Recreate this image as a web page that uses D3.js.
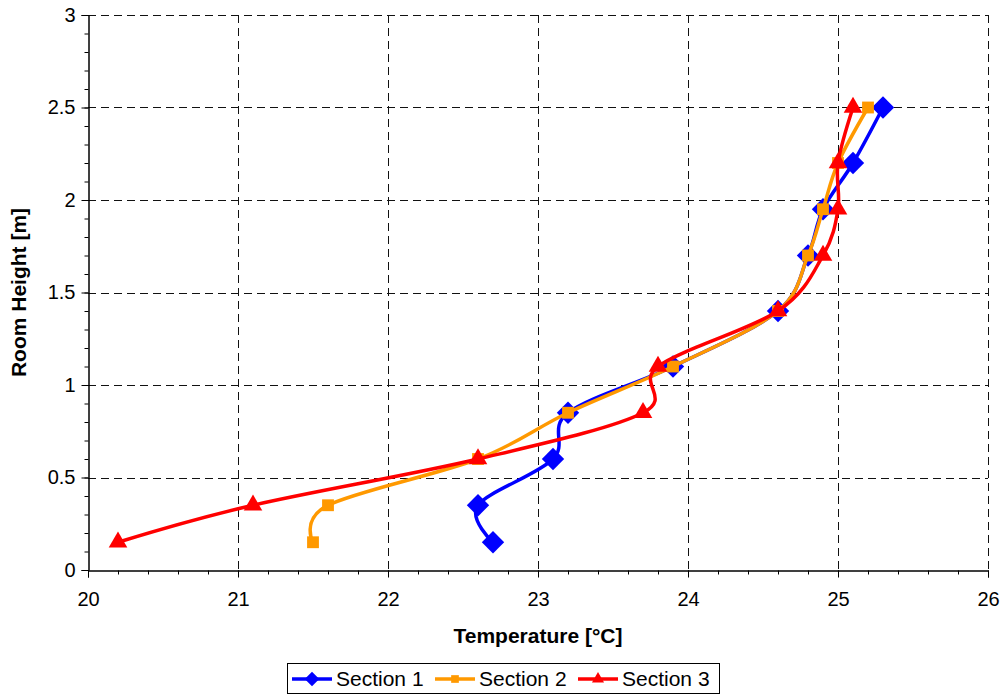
<!DOCTYPE html>
<html>
<head>
<meta charset="utf-8">
<script src="https://cdn.jsdelivr.net/npm/d3@7"></script>
<style>
  html, body { margin: 0; padding: 0; background: #fff; }
  svg { display: block; font-family: "Liberation Sans", Arial, sans-serif; }
</style>
</head>
<body>
<svg id="chart" width="1005" height="696"></svg>
<script>
// Measured room heights [m]
const heights = [0.15, 0.35, 0.6, 0.85, 1.1, 1.4, 1.7, 1.95, 2.2, 2.5];
// Temperatures [°C] for each measurement section
const section1 = [22.7, 22.6, 23.1, 23.2, 23.9, 24.6, 24.8, 24.9, 25.1, 25.3];
const section2 = [21.5, 21.6, 22.6, 23.2, 23.9, 24.6, 24.8, 24.9, 25.0, 25.2];
const section3 = [20.2, 21.1, 22.6, 23.7, 23.8, 24.6, 24.9, 25.0, 25.0, 25.1];
const seriesNames = ["Section 1", "Section 2", "Section 3"];
const xTicks = [20, 21, 22, 23, 24, 25, 26];
const yTicks = [0, 0.5, 1, 1.5, 2, 2.5, 3];

const series = [
  { name: seriesNames[0], temps: section1, color: "#0000ff", marker: "diamond" },
  { name: seriesNames[1], temps: section2, color: "#ff9900", marker: "square" },
  { name: seriesNames[2], temps: section3, color: "#ff0000", marker: "triangle" }
];

const svg = d3.select("#chart");
const plot = { left: 88, right: 988, top: 15, bottom: 570 };
const FONT = "Liberation Sans, Arial, sans-serif";

const x = d3.scaleLinear().domain([20, 26]).range([plot.left, plot.right]);
const y = d3.scaleLinear().domain([0, 3]).range([plot.bottom, plot.top]);

// Dashed grid lines
const grid = svg.append("g").attr("stroke", "#111").attr("stroke-width", 1).attr("stroke-dasharray", "8,5");
xTicks.filter(t => t !== 20).forEach(t => {
  grid.append("line").attr("x1", Math.round(x(t)) + 0.5).attr("x2", Math.round(x(t)) + 0.5)
    .attr("y1", plot.top).attr("y2", plot.bottom);
});
yTicks.filter(t => t !== 0).forEach(t => {
  grid.append("line").attr("x1", plot.left).attr("x2", plot.right)
    .attr("y1", Math.round(y(t)) + 0.5).attr("y2", Math.round(y(t)) + 0.5);
});

// Axes with minor ticks
const xMinor = d3.range(20, 26.001, 0.2);
const yMinor = d3.range(0, 3.001, 0.1);

const xAxisG = svg.append("g").attr("transform", `translate(0,${plot.bottom + 0.5})`);
xAxisG.call(d3.axisBottom(x).tickValues(xMinor).tickSize(4).tickFormat(""));
xAxisG.append("g").call(d3.axisBottom(x).tickValues(xTicks).tickSize(7).tickPadding(14).tickFormat(d3.format("d")));
xAxisG.selectAll("path").attr("stroke", "#000");
xAxisG.selectAll("line").attr("stroke", "#000");
xAxisG.selectAll("text").attr("font-size", 20).attr("fill", "#000").attr("font-family", FONT);

const yAxisG = svg.append("g").attr("transform", `translate(${plot.left + 0.5},0)`);
yAxisG.call(d3.axisLeft(y).tickValues(yMinor).tickSize(4).tickFormat(""));
yAxisG.append("g").call(d3.axisLeft(y).tickValues(yTicks).tickSize(7).tickPadding(6).tickFormat(d3.format("")));
yAxisG.selectAll("path").attr("stroke", "#000");
yAxisG.selectAll("line").attr("stroke", "#000");
yAxisG.selectAll("text").attr("font-size", 20).attr("fill", "#000").attr("font-family", FONT);

// Axis titles
svg.append("text").attr("x", x(23)).attr("y", 643).attr("text-anchor", "middle")
  .attr("font-size", 21).attr("font-weight", "bold").text("Temperature [°C]");
svg.append("text").attr("transform", `translate(26,${y(1.5)}) rotate(-90)`)
  .attr("text-anchor", "middle").attr("font-size", 21).attr("font-weight", "bold")
  .text("Room Height [m]");

// Marker shapes
const symbolFor = {
  diamond: d3.symbol().type(d3.symbolSquare).size(250),
  square: d3.symbol().type(d3.symbolSquare).size(140),
  triangle: d3.symbol().type(d3.symbolTriangle).size(150)
};
const rotFor = { diamond: 45, square: 0, triangle: 0 };

function drawMarker(g, m, cx, cy, color, scale = 1) {
  g.append("path").attr("d", symbolFor[m]())
    .attr("transform", `translate(${cx},${cy}) rotate(${rotFor[m]}) scale(${scale})`)
    .attr("fill", color);
}

// Smoothed series lines with markers
const line = d3.line().x(d => x(d[0])).y(d => y(d[1])).curve(d3.curveCardinal.tension(0));
series.forEach(s => {
  const pts = s.temps.map((t, i) => [t, heights[i]]);
  const g = svg.append("g");
  g.append("path").attr("d", line(pts)).attr("fill", "none")
    .attr("stroke", s.color).attr("stroke-width", 3.5).attr("stroke-linejoin", "round");
  pts.forEach(p => drawMarker(g, s.marker, x(p[0]), y(p[1]), s.color));
});

// Legend
const legend = svg.append("g");
legend.append("rect").attr("x", 287.5).attr("y", 663.5).attr("width", 432).attr("height", 30)
  .attr("fill", "#fff").attr("stroke", "#000").attr("stroke-width", 1);
const legendX = [292, 435, 578];
series.forEach((s, i) => {
  const lx = legendX[i];
  const ly = 679;
  legend.append("line").attr("x1", lx).attr("x2", lx + 40).attr("y1", ly).attr("y2", ly)
    .attr("stroke", s.color).attr("stroke-width", 3.5);
  drawMarker(legend, s.marker, lx + 20, ly, s.color, 0.65);
  legend.append("text").attr("x", lx + 44).attr("y", ly + 7).attr("font-size", 21)
    .attr("fill", "#000").attr("font-family", FONT).text(s.name);
});
</script>
</body>
</html>
